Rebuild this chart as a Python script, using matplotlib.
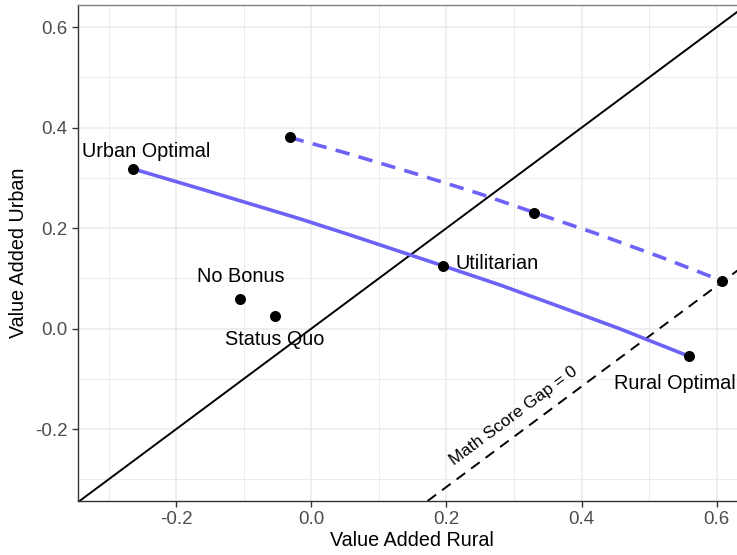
import numpy as np
import matplotlib
matplotlib.use('Agg')
import matplotlib.pyplot as plt

plt.rcParams['font.family'] = ['Liberation Sans', 'DejaVu Sans']

# frontier (solid) and shifted frontier (dashed)
solid_x = [-0.264, -0.166, -0.092, -0.018, 0.056, 0.130, 0.195, 0.279, 0.367, 0.456, 0.559]
solid_y = [0.318, 0.279, 0.249, 0.219, 0.187, 0.154, 0.125, 0.087, 0.044, 0.000, -0.055]
dash_x = [-0.032, 0.05, 0.15, 0.25, 0.330, 0.42, 0.52, 0.608]
dash_y = [0.3805, 0.350, 0.310, 0.268, 0.231, 0.190, 0.141, 0.095]

# labelled policies
pt_names = ['Urban Optimal', 'Utilitarian', 'Rural Optimal', 'No Bonus', 'Status Quo']
pt_x = [-0.264, 0.195, 0.559, -0.106, -0.054]
pt_y = [0.318, 0.125, -0.055, 0.0587, 0.0243]
# unlabelled points on the dashed frontier
extra_x = [-0.032, 0.330, 0.608]
extra_y = [0.3805, 0.231, 0.095]

gap_intercept = -0.515
xlim = (-0.346, 0.644)
ylim = (-0.343, 0.644)

purple = '#6C63F6'

fig = plt.figure(figsize=(7.37, 5.55), dpi=100)
ax = fig.add_axes([77.5 / 737, 1 - 501 / 555, (746.5 - 77.5) / 737, (501 - 5) / 555])

ax.set_xlim(xlim)
ax.set_ylim(ylim)
ax.set_xticks([-0.2, 0.0, 0.2, 0.4, 0.6])
ax.set_yticks([-0.2, 0.0, 0.2, 0.4, 0.6])
ax.set_xticks(np.arange(-0.3, 0.65, 0.2), minor=True)
ax.set_yticks(np.arange(-0.3, 0.65, 0.2), minor=True)
ax.set_xticklabels(['-0.2', '0.0', '0.2', '0.4', '0.6'])
ax.set_yticklabels(['-0.2', '0.0', '0.2', '0.4', '0.6'])
ax.grid(which='major', color='#EBEBEB', linewidth=1.1)
ax.grid(which='minor', color='#EBEBEB', linewidth=0.7)
ax.set_axisbelow(True)
ax.tick_params(which='major', length=4, width=1, color='#333333',
               labelsize=13.5, labelcolor='#4D4D4D', pad=3)
ax.tick_params(which='minor', length=0)
for s in ['left', 'bottom']:
    ax.spines[s].set_color('#333333')
    ax.spines[s].set_linewidth(1.0)
ax.spines['top'].set_color('#808080')
ax.spines['top'].set_linewidth(1.0)
ax.spines['right'].set_visible(False)

# 45 degree line and zero gap line
ax.axline((0, 0), slope=1, color='black', linewidth=1.4, zorder=2)
ax.axline((0, gap_intercept), slope=1, color='black', linewidth=1.4,
          dashes=(5.5, 3.8), zorder=2)

ax.plot(solid_x, solid_y, color=purple, linewidth=2.6, solid_capstyle='butt', zorder=3)
ax.plot(dash_x, dash_y, color=purple, linewidth=2.6, dashes=(4, 2.6), zorder=3)

ax.scatter(pt_x + extra_x, pt_y + extra_y, s=48, color='black', zorder=4)

fs = 14.3
ax.text(-0.244, 0.342, 'Urban Optimal', ha='center', va='baseline', fontsize=fs)
ax.text(0.214, 0.118, 'Utilitarian', ha='left', va='baseline', fontsize=fs)
ax.text(0.448, -0.120, 'Rural Optimal', ha='left', va='baseline', fontsize=fs, clip_on=False)
ax.text(-0.105, 0.093, 'No Bonus', ha='center', va='baseline', fontsize=fs)
ax.text(-0.054, -0.032, 'Status Quo', ha='center', va='baseline', fontsize=fs)
ax.text(0.300, -0.1735, 'Math Score Gap = 0', ha='center', va='center',
        rotation=36.6, rotation_mode='anchor', fontsize=12.4)

ax.set_xlabel('Value Added Rural', fontsize=14.2, labelpad=2)
ax.set_ylabel('Value Added Urban', fontsize=14.2, labelpad=5)

fig.savefig('out.png', dpi=100)
